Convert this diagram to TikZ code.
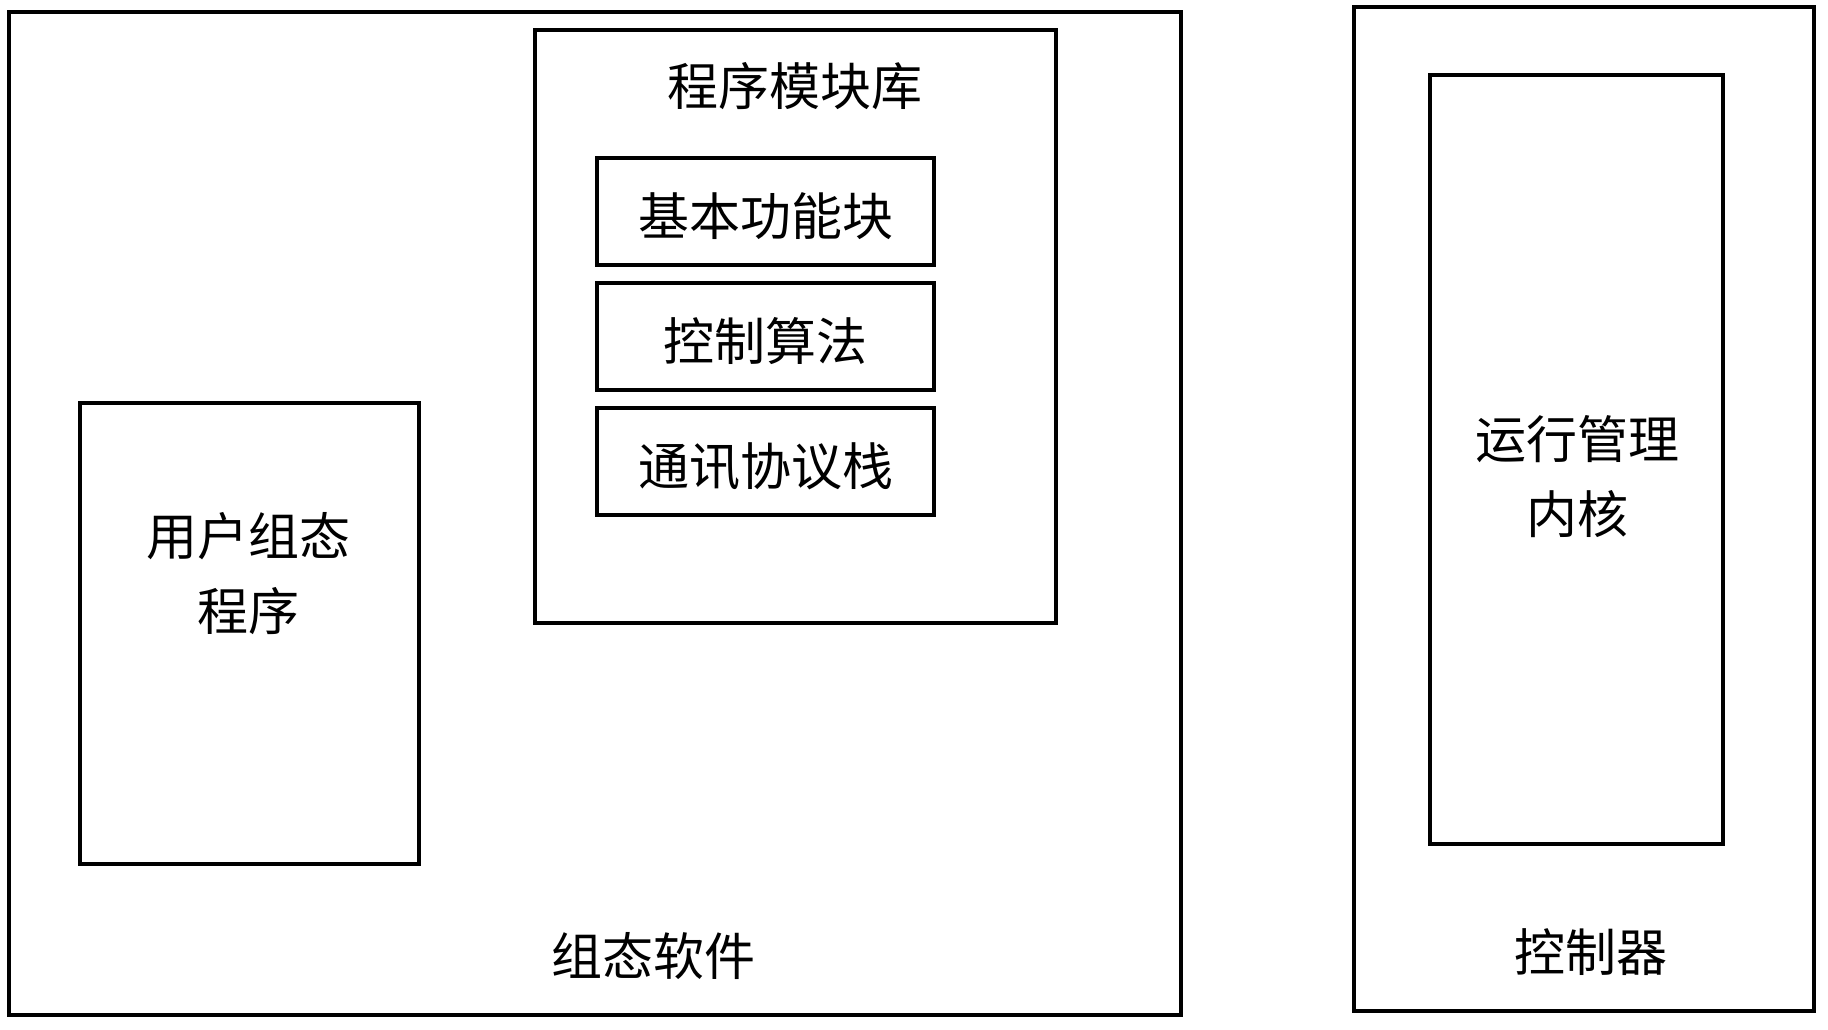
\documentclass[tikz,border=0pt]{standalone}
\usepackage{fontspec}
\setmainfont{Noto Sans CJK SC}
\usetikzlibrary{positioning}
\tikzset{
  bx/.style={rectangle,draw=black,line width=3.5pt,outer sep=0pt,inner sep=0pt,
    anchor=north west},
  sb/.style={bx,minimum width=337pt,minimum height=107pt,anchor=north,
    text height=50pt,text depth=2.5pt,font=\fontsize{51}{75}\selectfont},
  lbl/.style={align=center,inner sep=0pt,font=\fontsize{51}{75}\selectfont},
}
\begin{document}
\begin{tikzpicture}[x=1pt,y=-1pt,node distance=18pt]
    \useasboundingbox (0,0) rectangle (1828,1029);

    % ── configuration software ────────────────────────────────────────────────
    \node[bx,minimum width=1172pt,minimum height=1003pt] (cfg) at (9,12) {};
    \node[lbl] (cfgt) at (653,956) {组态软件};

    \node[bx,minimum width=339pt,minimum height=461pt] (usr) at (80,403) {};
    \node[lbl] (usrt) at (248,574) {用户组态\\程序};

    % ── module library ────────────────────────────────────────────────────────
    \node[bx,minimum width=521pt,minimum height=593pt] (lib) at (535,30) {};
    \node[lbl] (libt) at (795,86) {程序模块库};

    \node[sb] (fb) at (765.5,158) {基本功能块};
    \node[sb,below=of fb] (ca) {控制算法};
    \node[sb,below=of ca] (cs) {通讯协议栈};

    % ── controller ────────────────────────────────────────────────────────────
    \node[bx,minimum width=460pt,minimum height=1004pt] (ctl) at (1354,7) {};
    \node[lbl] (ctlt) at (1591,952) {控制器};

    \node[bx,minimum width=293pt,minimum height=769pt] (krn) at (1430,75) {};
    \node[lbl] (krnt) at (1577,477) {运行管理\\内核};

\end{tikzpicture}
\end{document}
